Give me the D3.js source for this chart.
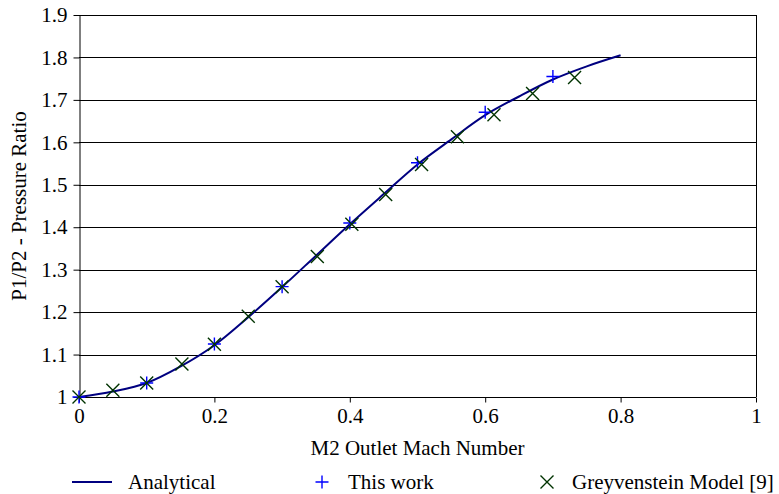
<!DOCTYPE html>
<html>
<head>
<meta charset="utf-8">
<script src="https://cdn.jsdelivr.net/npm/d3@7"></script>
<style>
  body { margin: 0; background: #fff; }
  svg text { font-family: "Liberation Serif", "Times New Roman", serif; fill: #000; }
</style>
</head>
<body>
<svg class="chart"></svg>
<script>
// data
var analyticalX = [0, 0.05, 0.1, 0.15, 0.2, 0.25, 0.3, 0.35, 0.4, 0.45, 0.5, 0.55, 0.6, 0.65, 0.7, 0.75, 0.8];
var analyticalY = [1.0, 1.013, 1.033, 1.072, 1.122, 1.188, 1.259, 1.333, 1.407, 1.478, 1.548, 1.607, 1.664, 1.708, 1.748, 1.779, 1.805];

var thisWorkX = [0, 0.1, 0.2, 0.3, 0.4, 0.5, 0.6, 0.7];
var thisWorkY = [1.0, 1.033, 1.125, 1.26, 1.41, 1.552, 1.671, 1.755];

var greyX = [0, 0.05, 0.1, 0.152, 0.2, 0.25, 0.3, 0.352, 0.403, 0.453, 0.506, 0.559, 0.613, 0.67, 0.732];
var greyY = [1.0, 1.016, 1.033, 1.078, 1.124, 1.19, 1.26, 1.331, 1.407, 1.477, 1.548, 1.613, 1.665, 1.715, 1.753];

var xTicks = [0, 0.2, 0.4, 0.6, 0.8, 1];
var yTicks = [1, 1.1, 1.2, 1.3, 1.4, 1.5, 1.6, 1.7, 1.8, 1.9];
var seriesNames = ['Analytical', 'This work', 'Greyvenstein Model [9]'];

// chart
var width = 779;
var height = 494;
var margin = { left: 79, right: 23, top: 15, bottom: 97 };
var fontSize = 21;

var chart = d3.select('.chart')
    .attr('width', width)
    .attr('height', height);

var x = d3.scaleLinear()
    .domain([0, 1])
    .range([margin.left, width - margin.right]);

var y = d3.scaleLinear()
    .domain([1, 1.9])
    .range([height - margin.bottom, margin.top]);

// gridlines
chart.append('g')
    .selectAll('line')
    .data(yTicks)
  .enter().append('line')
    .attr('x1', x(0))
    .attr('x2', x(1))
    .attr('y1', function(d){ return Math.round(y(d)) + 0.5; })
    .attr('y2', function(d){ return Math.round(y(d)) + 0.5; })
    .attr('stroke', '#000')
    .attr('stroke-width', 1);

// right border
chart.append('line')
    .attr('x1', Math.round(x(1)) + 0.5)
    .attr('x2', Math.round(x(1)) + 0.5)
    .attr('y1', y(1.9))
    .attr('y2', y(1))
    .attr('stroke', '#000');

// axes
var xAxis = d3.axisBottom(x)
    .tickValues(xTicks)
    .tickFormat(d3.format('~g'))
    .tickSizeInner(5)
    .tickSizeOuter(0)
    .tickPadding(6);

var gx = chart.append('g')
    .attr('transform', 'translate(0,' + (Math.round(y(1)) + 0.5) + ')')
    .call(xAxis);
gx.select('.domain').remove();
gx.selectAll('text').style('font-size', fontSize + 'px').style('font-family', '"Liberation Serif", serif');

var yAxis = d3.axisLeft(y)
    .tickValues(yTicks)
    .tickFormat(d3.format('~g'))
    .tickSizeInner(6)
    .tickSizeOuter(0)
    .tickPadding(6);

var gy = chart.append('g')
    .attr('transform', 'translate(' + (Math.round(x(0)) + 0.5) + ',0)')
    .call(yAxis);
gy.selectAll('text').style('font-size', fontSize + 'px').style('font-family', '"Liberation Serif", serif');
gy.selectAll('.tick line').attr('stroke', '#000');

// analytical line
var line = d3.line()
    .x(function(d){ return x(d[0]); })
    .y(function(d){ return y(d[1]); })
    .curve(d3.curveCatmullRom);

chart.append('path')
    .datum(d3.zip(analyticalX, analyticalY))
    .attr('d', line)
    .attr('fill', 'none')
    .attr('stroke', '#000080')
    .attr('stroke-width', 2);

// markers
var s = 6.5;
function plusPath(cx, cy) {
  return 'M' + (cx - s) + ',' + cy + 'H' + (cx + s) + 'M' + cx + ',' + (cy - s) + 'V' + (cy + s);
}
function crossPath(cx, cy) {
  return 'M' + (cx - s) + ',' + (cy - s) + 'L' + (cx + s) + ',' + (cy + s) +
         'M' + (cx - s) + ',' + (cy + s) + 'L' + (cx + s) + ',' + (cy - s);
}

chart.append('g')
    .selectAll('path')
    .data(d3.zip(thisWorkX, thisWorkY))
  .enter().append('path')
    .attr('d', function(d){ return plusPath(x(d[0]), y(d[1])); })
    .attr('stroke', '#0000ff')
    .attr('stroke-width', 1.4);

chart.append('g')
    .selectAll('path')
    .data(d3.zip(greyX, greyY))
  .enter().append('path')
    .attr('d', function(d){ return crossPath(x(d[0]), y(d[1])); })
    .attr('stroke', '#003300')
    .attr('stroke-width', 1.4);

// axis labels
chart.append('text')
    .attr('x', (x(0) + x(1)) / 2)
    .attr('y', 455)
    .attr('text-anchor', 'middle')
    .style('font-size', fontSize + 'px')
    .text('M2 Outlet Mach Number');

chart.append('text')
    .attr('transform', 'translate(26,' + (y(1.45)) + ') rotate(-90)')
    .attr('text-anchor', 'middle')
    .style('font-size', fontSize + 'px')
    .text('P1/P2 - Pressure Ratio');

// legend
var legendY = 482;
var legend = chart.append('g');

legend.append('line')
    .attr('x1', 72).attr('x2', 112)
    .attr('y1', legendY).attr('y2', legendY)
    .attr('stroke', '#000080')
    .attr('stroke-width', 2);
legend.append('text')
    .attr('x', 128).attr('y', legendY + 7)
    .style('font-size', fontSize + 'px')
    .text(seriesNames[0]);

legend.append('path')
    .attr('d', plusPath(322, legendY))
    .attr('stroke', '#0000ff')
    .attr('stroke-width', 1.4);
legend.append('text')
    .attr('x', 348).attr('y', legendY + 7)
    .style('font-size', fontSize + 'px')
    .text(seriesNames[1]);

legend.append('path')
    .attr('d', crossPath(547, legendY))
    .attr('stroke', '#003300')
    .attr('stroke-width', 1.4);
legend.append('text')
    .attr('x', 572).attr('y', legendY + 7)
    .style('font-size', fontSize + 'px')
    .text(seriesNames[2]);
</script>
</body>
</html>
